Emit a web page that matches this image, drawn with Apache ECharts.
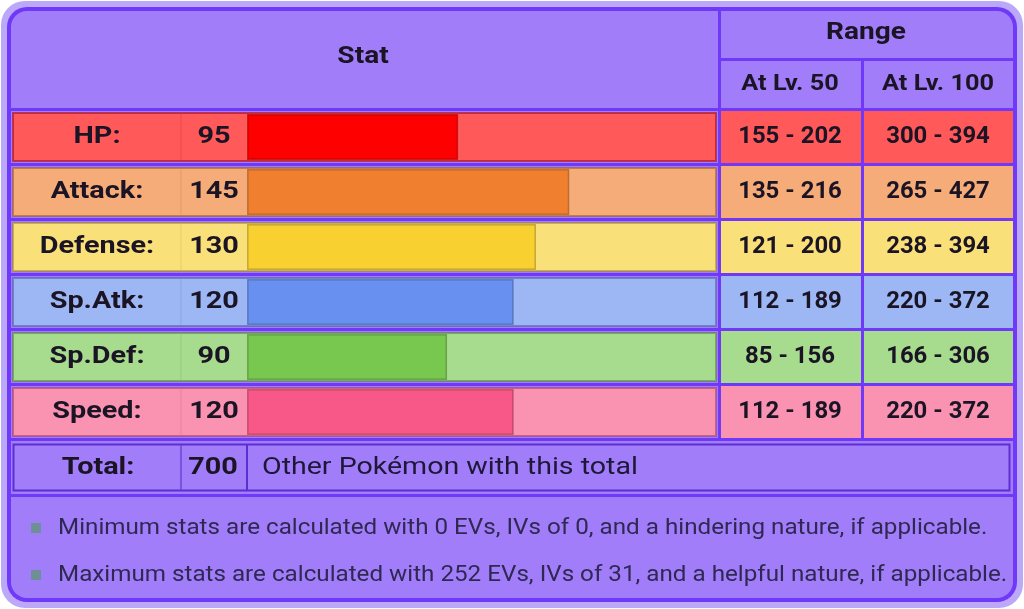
<!DOCTYPE html>
<html><head><meta charset="utf-8">
<script src="https://cdn.jsdelivr.net/npm/echarts@6/dist/echarts.min.js"></script>
<style>html,body{margin:0;padding:0;background:#fff;}#c{width:1024px;height:609px;}</style>
</head><body><div id="c"></div>
<script>
const statNames = ['HP:', 'Attack:', 'Defense:', 'Sp.Atk:', 'Sp.Def:', 'Speed:'];
const statValues = [95, 145, 130, 120, 90, 120];
const lv50Min = [155, 135, 121, 112, 85, 112];
const lv50Max = [202, 216, 200, 189, 156, 189];
const lv100Min = [300, 265, 238, 220, 166, 220];
const lv100Max = [394, 427, 394, 372, 306, 372];
const totalValue = 700;
const headerTexts = ['Stat', 'Range', 'At Lv. 50', 'At Lv. 100'];
const totalLabel = 'Total:';
const totalLink = 'Other Pokémon with this total';
const notes = [
  'Minimum stats are calculated with 0 EVs, IVs of 0, and a hindering nature, if applicable.',
  'Maximum stats are calculated with 252 EVs, IVs of 31, and a helpful nature, if applicable.'
];
const barColors = ['#FF0000', '#F08030', '#F8D030', '#6890F0', '#78C850', '#F85888'];
const rowColors = ['#FF5959', '#F5AC78', '#FAE078', '#9DB7F5', '#A7DB8D', '#FA92B2'];
const darkColors = ['#A60000', '#9C531F', '#A1871F', '#445E9C', '#4E8234', '#A13959'];

const PURPLE = '#7038F8', LIGHT = '#A27DFA', FRAME = '#BBA8F8';
const FONT = 'Roboto, "Noto Sans", sans-serif';
const TXT = '#1a1424';
function rgba(hex, a) {
  const n = parseInt(hex.slice(1), 16);
  return 'rgba(' + (n >> 16) + ',' + ((n >> 8) & 255) + ',' + (n & 255) + ',' + a + ')';
}
function txt(text, x, y, font, align, fill, sx, z) {
  return {type: 'text', z: z || 5, x: x, y: y, scaleX: sx, scaleY: 1,
    style: {text: text, x: 0, y: 0, textAlign: align, textVerticalAlign: 'middle', font: font, fill: fill}};
}

const chart = echarts.init(document.getElementById('c'), null, {renderer: 'canvas'});

const graphics = [
  {type: 'rect', z: 0, shape: {x: 1, y: 1, width: 1022, height: 607, r: 24}, style: {fill: FRAME}},
  {type: 'rect', z: 1, shape: {x: 7, y: 7, width: 1010, height: 595, r: 20}, style: {fill: PURPLE}},
  {type: 'rect', z: 2, shape: {x: 11, y: 11, width: 707, height: 97, r: [16, 0, 0, 0]}, style: {fill: LIGHT}},
  {type: 'rect', z: 2, shape: {x: 721, y: 11, width: 292, height: 47, r: [0, 16, 0, 0]}, style: {fill: LIGHT}},
  {type: 'rect', z: 2, shape: {x: 721, y: 61, width: 140, height: 47}, style: {fill: LIGHT}},
  {type: 'rect', z: 2, shape: {x: 864, y: 61, width: 149, height: 47}, style: {fill: LIGHT}},
  txt(headerTexts[0], 363, 57, 'bold 23px ' + FONT, 'center', TXT, 1.22, 3),
  txt(headerTexts[1], 866, 33, 'bold 23px ' + FONT, 'center', TXT, 1.22, 3),
  txt(headerTexts[2], 790, 84, 'bold 22px ' + FONT, 'center', TXT, 1.15, 3),
  txt(headerTexts[3], 938, 84, 'bold 22px ' + FONT, 'center', TXT, 1.15, 3),
  {type: 'rect', z: 2, shape: {x: 11, y: 441, width: 1002, height: 53}, style: {fill: LIGHT}},
  {type: 'rect', z: 3, shape: {x: 13.5, y: 444.5, width: 996, height: 46}, style: {fill: LIGHT, stroke: '#5B2FD0', lineWidth: 2}},
  {type: 'line', z: 4, shape: {x1: 181, y1: 445, x2: 181, y2: 490}, style: {stroke: '#6a45d8', lineWidth: 1.5}},
  {type: 'line', z: 4, shape: {x1: 247, y1: 445, x2: 247, y2: 490}, style: {stroke: '#5B2FD0', lineWidth: 2}},
  txt(totalLabel, 98, 468, 'bold 24px ' + FONT, 'center', TXT, 1.2),
  txt(String(totalValue), 213, 468, 'bold 24px ' + FONT, 'center', TXT, 1.2),
  txt(totalLink, 262, 468, '24px ' + FONT, 'left', '#1e1838', 1.19),
  {type: 'rect', z: 2, shape: {x: 11, y: 497, width: 1002, height: 101, r: [0, 0, 16, 16]}, style: {fill: LIGHT}}
];
notes.forEach(function (t, k) {
  const y = 528 + 47 * k;
  graphics.push({type: 'rect', z: 3, shape: {x: 31, y: y - 5, width: 10, height: 10}, style: {fill: '#6F8F96'}});
  graphics.push(txt(t, 58, y, '22px ' + FONT, 'left', '#2e2852', 1.1, 3));
});

const rowData = statValues.map(function (v, i) { return [v, i]; });

const option = {
  animation: false,
  backgroundColor: '#ffffff',
  graphic: graphics,
  grid: {left: 247, top: 109.5, width: 469, height: 330, containLabel: false},
  xAxis: {type: 'value', min: 0, max: 211, show: false},
  yAxis: {type: 'category', data: statNames, inverse: true, show: false},
  series: [
    {
      type: 'custom', z: 10, clip: false, silent: true,
      encode: {x: 0, y: 1},
      data: rowData,
      renderItem: function (params, api) {
        const i = api.value(1);
        const p0 = api.coord([0, i]);
        const band = api.size([0, 1])[1];
        const cy = p0[1];
        const top = cy - band / 2 + 1.5;
        const h = band - 3;
        const x0 = p0[0];
        return {
          type: 'group',
          children: [
            {type: 'rect', shape: {x: 11, y: top, width: 707, height: h}, style: {fill: LIGHT}},
            {type: 'rect', shape: {x: 13, y: top + 2, width: 703, height: h - 4}, style: {fill: rowColors[i], stroke: rgba(darkColors[i], 0.55), lineWidth: 2}},
            {type: 'line', shape: {x1: 181, y1: top + 3, x2: 181, y2: top + h - 3}, style: {stroke: rgba(darkColors[i], 0.18), lineWidth: 1}},
            {type: 'rect', shape: {x: 721, y: top, width: 140, height: h}, style: {fill: rowColors[i]}},
            {type: 'rect', shape: {x: 864, y: top, width: 149, height: h}, style: {fill: rowColors[i]}},
            txt(statNames[i], 97, cy, 'bold 24px ' + FONT, 'center', TXT, 1.2),
            txt(String(statValues[i]), (181 + x0) / 2, cy, 'bold 24px ' + FONT, 'center', TXT, 1.2),
            txt(lv50Min[i] + ' - ' + lv50Max[i], 790, cy, 'bold 23px ' + FONT, 'center', TXT, 1.04),
            txt(lv100Min[i] + ' - ' + lv100Max[i], 938, cy, 'bold 23px ' + FONT, 'center', TXT, 1.04)
          ]
        };
      }
    },
    {
      type: 'bar', z: 20, silent: true,
      barWidth: 46,
      data: statValues.map(function (v, i) {
        return {value: v, itemStyle: {color: barColors[i], borderColor: rgba(darkColors[i], 0.6), borderWidth: 1.5}};
      })
    }
  ]
};
chart.setOption(option);
</script>
</body></html>
